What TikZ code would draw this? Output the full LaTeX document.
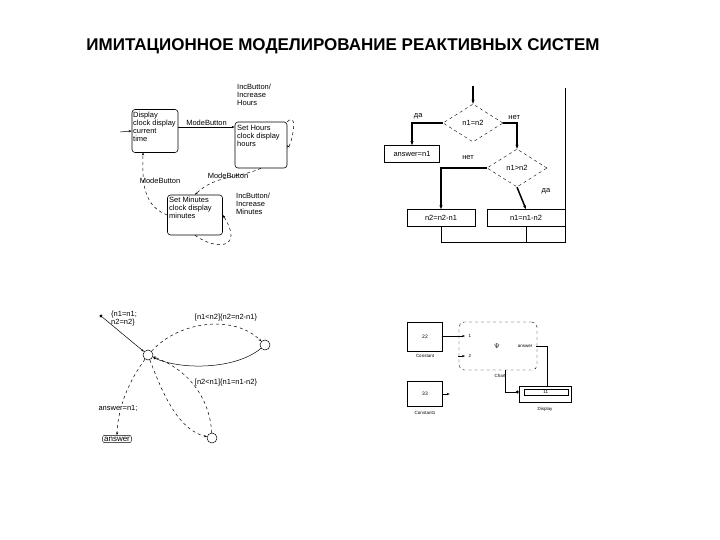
\documentclass[tikz,border=0pt]{standalone}
\usepackage{fontspec}
\setmainfont{Liberation Sans}
\usetikzlibrary{arrows.meta,shapes.geometric}
\begin{document}
\begin{tikzpicture}[x=1pt,y=-1pt,
  t/.style={font=\fontsize{7.5}{8}\selectfont,align=left,inner sep=0pt},
  st/.style={draw,rounded corners=3pt,line width=0.6pt},
  dsh/.style={dashed,line width=0.5pt,-{Stealth[length=3pt]}},
  fb/.style={draw,line width=0.6pt,minimum height=17pt,font=\fontsize{7.5}{8}\selectfont},
  dm/.style={draw,dashed,diamond,minimum width=60pt,minimum height=38pt,inner sep=0pt,font=\fontsize{7.5}{8}\selectfont},
  th/.style={line width=1.5pt,-{Stealth[length=4pt]}},
  sc/.style={draw,circle,minimum size=10pt,inner sep=0pt,line width=0.5pt},
  ca/.style={line width=0.5pt,-{Stealth[length=3pt]}}]
\useasboundingbox (0,0) rectangle (720,540);
\node[font=\bfseries\fontsize{17}{19}\selectfont] (title) at (343,46) {ИМИТАЦИОННОЕ МОДЕЛИРОВАНИЕ РЕАКТИВНЫХ СИСТЕМ};
% ---- statechart
\node[st,minimum width=46pt,minimum height=43pt] (disp) at (155,131) {};
\node[t,anchor=north west] (dispt) at (133,112) {Display\\clock display\\current\\time};
\node[st,minimum width=52pt,minimum height=46pt] (hrs) at (261,145) {};
\node[t,anchor=north west] (hrst) at (237,125) {Set Hours\\clock display\\hours};
\node[t,anchor=north west] (hrsl) at (237,84) {IncButton/\\Increase\\Hours};
\node[st,minimum width=55pt,minimum height=40pt] (mins) at (195,215) {};
\node[t,anchor=north west] (minst) at (169,197) {Set Minutes\\clock display\\minutes};
\node[t,anchor=north west] (minsl) at (236,193) {IncButton/\\Increase\\Minutes};
\coordinate (ini) at (120,132);
\draw[ca] (ini) -- (disp.west);
\draw[ca] (disp.east |- 0,127) -- (hrs.west |- 0,127) node[t,midway,above=1pt] {ModeButton};
\draw[dsh] (hrs.south) .. controls (240,178) and (215,175) .. (mins.north);
\node[t] (mbh) at (228,176) {ModeButton};
\draw[dsh] (mins.west) .. controls (140,205) and (143,175) .. (143,152.5);
\node[t] (mbl) at (160,181) {ModeButton};
\draw[dsh] (hrs.north east) .. controls (300,110) and (290,150) .. (hrs.east) ;
\draw[dsh] (mins.south) .. controls (215,250) and (245,250) .. (mins.east);
% ---- flowchart
\coordinate (fs) at (473,86);
\node[dm] (d1) at (473,123) {n1=n2};
\node[dm] (d2) at (517,168) {n1>n2};
\node[fb,minimum width=55pt] (ans) at (412,154) {answer=n1};
\node[fb,minimum width=68pt] (b1) at (441,218) {n2=n2-n1};
\node[fb,minimum width=78pt] (b2) at (526,218) {n1=n1-n2};
\draw[th] (fs) -- (d1.north);
\draw[th] (d1.west) -| (ans.north) node[t,pos=0.4,above=3pt] {да};
\draw[th] (d1.east) -| (d2.north) node[t,pos=0.4,above=3pt] {нет};
\draw[th] (d2.west) -| (b1.north);
\draw[th] (d2.south) -- (b2.north);
\node[t] (net2) at (468,158) {нет};
\node[t] (da2) at (546,191) {да};
\coordinate (bl) at (441,242);
\coordinate (br) at (565,242);
\coordinate (tr) at (565,88);
\draw[line width=0.6pt] (b1.south) -- (bl) -- (br) -- (tr);
\draw[line width=0.6pt] (b2.south) -- (b2.south |- bl);
% ---- state graph
\node[sc] (c0) at (148,355) {};
\node[sc] (c1) at (265,345) {};
\node[sc] (c2) at (212,438) {};
\node[draw,rounded corners=2pt,inner sep=1.5pt,font=\fontsize{8}{9}\selectfont] (ansb) at (117,439) {answer};
\node[circle,fill,inner sep=1.2pt] (dot) at (101,316) {};
\draw[ca] (dot) -- (c0);
\node[t,anchor=north west] (l0) at (111,311) {\{n1=n1;\\ n2=n2\}};
\draw[ca,dashed] (c0) .. controls (180,320) and (235,315) .. (c1);
\draw[ca] (c1) .. controls (235,370) and (180,370) .. (c0);
\node[t] (l1) at (226,318) {[n1<n2]\{n2=n2-n1\}};
\draw[ca,dashed] (c0) .. controls (165,400) and (180,430) .. (c2);
\draw[ca,dashed] (c2) .. controls (210,400) and (190,370) .. (c0);
\node[t] (l2) at (226,383) {[n2<n1]\{n1=n1-n2\}};
\draw[ca,dashed] (c0) .. controls (130,380) and (118,405) .. (ansb.north);
\node[t,fill=white,inner sep=1pt] (l3) at (118,408) {answer=n1;};
% ---- simulink
\node[draw,minimum width=35pt,minimum height=29pt,font=\fontsize{5}{6}\selectfont] (k1) at (425,337) {22};
\node[font=\fontsize{4.5}{5}\selectfont] at (425,356) (k1l) {Constant};
\node[draw,minimum width=35pt,minimum height=25pt,font=\fontsize{5}{6}\selectfont] (k2) at (425,394) {33};
\node[font=\fontsize{4.5}{5}\selectfont] at (425,413) (k2l) {Constant1};
\node[draw,dashed,rounded corners=5pt,minimum width=78pt,minimum height=48pt] (ch) at (498,346) {};
\node[font=\fontsize{4.5}{5}\selectfont] (chl) at (500,376) {Chart};
\node[font=\fontsize{4.5}{5}\selectfont,anchor=west] (p1) at (465,336) {1};
\node[font=\fontsize{4.5}{5}\selectfont,anchor=west] (p2) at (465,356) {2};
\node[font=\fontsize{4.5}{5}\selectfont,anchor=east] (po) at (536,346) {answer};
\node[font=\fontsize{7}{8}\selectfont] (sym) at (497,346) {$\Psi$};
\draw[ca] (k1.east |- p1) -- (p1.west);
\draw[ca] (k2.east) -- ++(7,0) coordinate (k2e);
\draw[ca] (458,356) -- (p2.west);
\node[draw,minimum width=52pt,minimum height=16pt] (dsp) at (545,394) {};
\node[draw,minimum width=44pt,minimum height=6pt,inner sep=0pt,font=\fontsize{4.5}{5}\selectfont,anchor=east] (dspv) at (568,392) {\hfill 11};
\node[font=\fontsize{4.5}{5}\selectfont] (dspl) at (545,409) {Display};
\draw[line width=0.5pt] (po.east) -- (547,346) -- (547,386);
\draw[line width=0.5pt,-{Circle[length=3pt]}] (505,370) -- (505,392) -- (dsp.west |- 0,392);
\end{tikzpicture}
\end{document}
